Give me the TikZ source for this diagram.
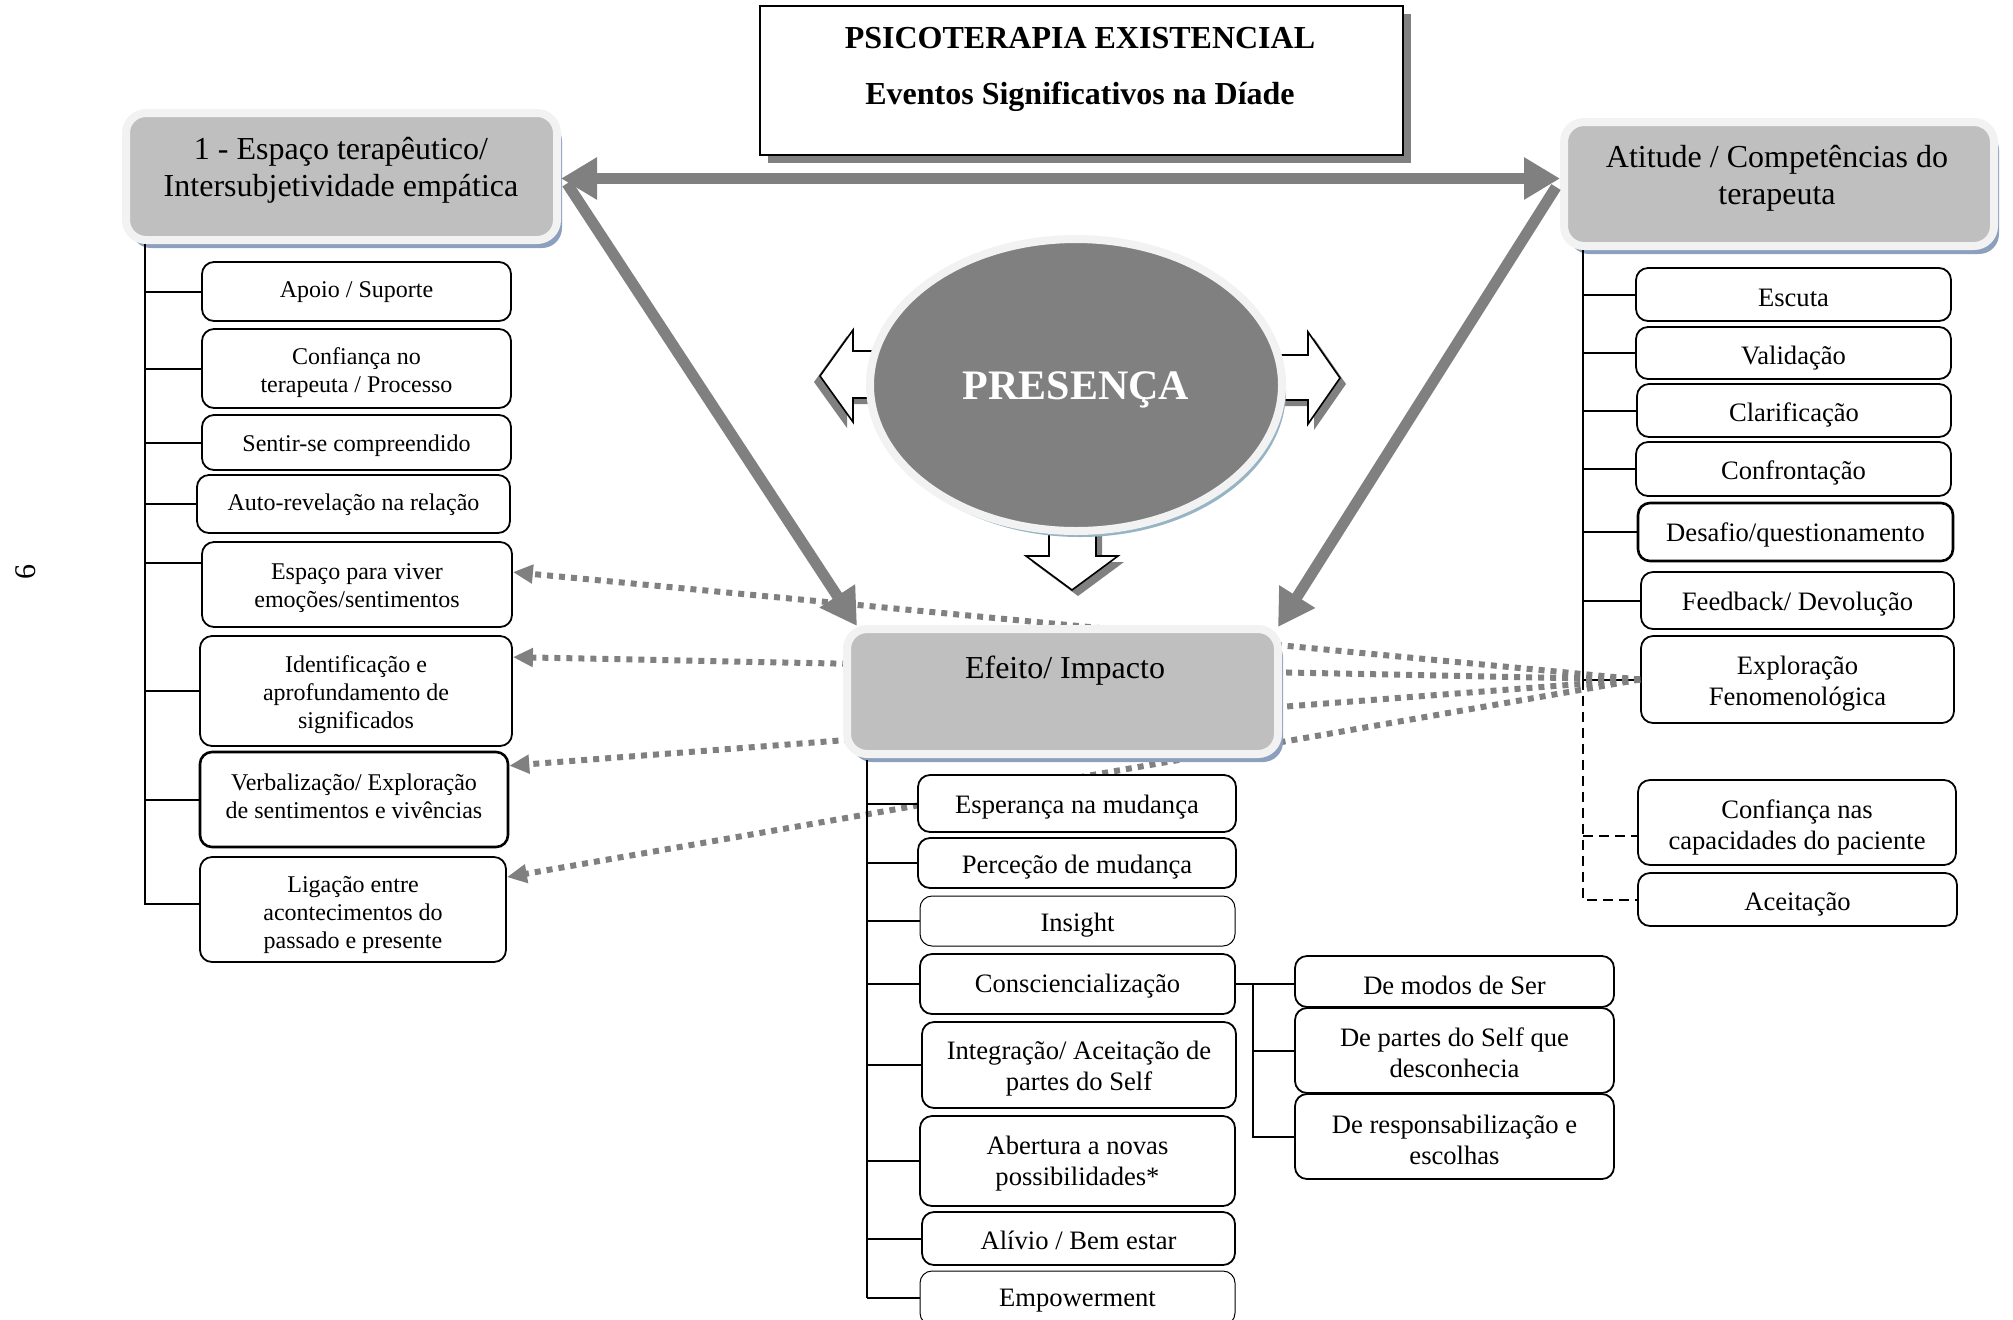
\documentclass[tikz,border=0pt]{standalone}
\usepackage{fontspec}
\setmainfont{Liberation Serif}
\usetikzlibrary{arrows.meta,shadows,calc,shapes.geometric}
\definecolor{hdrgray}{HTML}{BFBFBF}
\definecolor{hdredge}{HTML}{F2F2F2}
\definecolor{shblue}{RGB}{140,160,190}
\definecolor{midgray}{HTML}{808080}
\definecolor{ellsh}{RGB}{150,180,195}
% \bx[box style]{text style}{name}{x1}{y1}{x2}{y2}{text dy}{text}
\newcommand\bx[9][]{%
  \pgfmathsetmacro\bxcx{(#4+#6)/2}%
  \pgfmathsetmacro\bxcy{(#5+#7)/2}%
  \pgfmathsetmacro\bxw{(#6-#4)/2}%
  \pgfmathsetmacro\bxh{(#7-#5)/2}%
  \node[#1, minimum width=\bxw pt, minimum height=\bxh pt] (#3) at (\bxcx,\bxcy) {};
  \node[#2] (#3t) at ($(#3.center)+(0,#8)$) {#9};}
\tikzset{
 lbox/.style={draw=black, line width=0.9pt, rounded corners=6pt, fill=white, inner sep=0pt},
 ltext/.style={align=center, inner sep=0pt, font=\fontsize{12}{14}\selectfont},
 rtext/.style={align=center, inner sep=0pt, font=\fontsize{13.3}{15.5}\selectfont},
 thickbox/.style={line width=1.3pt},
 thinbox/.style={line width=0.5pt},
 hdr/.style={draw=hdredge, line width=4pt, fill=hdrgray, rounded corners=10pt, inner sep=0pt,
   drop shadow={shadow xshift=2.5pt, shadow yshift=-4pt, fill=shblue, opacity=1}},
 hdrtext/.style={align=center, font=\fontsize{16}{18.5}\selectfont, inner sep=0pt},
 titlebox/.style={draw=black, line width=0.8pt, fill=white, inner sep=0pt,
   drop shadow={shadow xshift=4pt, shadow yshift=-4pt, fill=midgray, opacity=1}},
 titletext/.style={font=\fontsize{16}{18}\selectfont\bfseries, inner sep=0pt},
 conn/.style={draw=black, line width=1pt},
 dconn/.style={conn, dash pattern=on 5pt off 3pt},
 bigarrow/.style={draw=midgray, line width=5.5pt, -{Triangle[length=18pt,width=20pt]}},
 bigdouble/.style={draw=midgray, line width=5.5pt, {Triangle[length=18pt,width=20pt]}-{Triangle[length=18pt,width=20pt]}},
 dotarrow/.style={draw=midgray, line width=3pt, dash pattern=on 3pt off 3pt, -{Triangle[length=10pt,width=9pt]}},
 blockarrow/.style={draw=black, line width=0.8pt, fill=white, line join=miter},
 blockshadow/.style={fill=midgray, draw=none},
}
\begin{document}
\begin{tikzpicture}[x=0.5pt,y=-0.5pt]
\useasboundingbox (0,0) rectangle (2013,1319);
\clip (0,0) rectangle (2013,1319);

% page number
\node[rotate=90, font=\fontsize{15}{15}\selectfont, inner sep=0pt] (pg) at (26,572) {6};

% title
\pgfmathsetmacro\tw{(1403-760)/2}\pgfmathsetmacro\th{(155-6)/2}
\node[titlebox, minimum width=\tw pt, minimum height=\th pt] (title) at (1081.5,80.5) {};
\node[titletext] (t1) at (1080,38) {PSICOTERAPIA EXISTENCIAL};
\node[titletext] (t2) at (1080,97) {Eventos Significativos na Díade};

% headers
\pgfmathsetmacro\hw{(557-126)/2}\pgfmathsetmacro\hh{(240-113)/2}
\node[hdr, minimum width=\hw pt, minimum height=\hh pt] (lh) at (341.5,176.5) {};
\node[hdrtext] (lht) at (341,170) {1 - Espaço terapêutico/\\Intersubjetividade empática};
\pgfmathsetmacro\hw{(1994-1564)/2}\pgfmathsetmacro\hh{(246-122)/2}
\node[hdr, minimum width=\hw pt, minimum height=\hh pt] (rh) at (1779,184) {};
\node[hdrtext] (rht) at (1777,178) {Atitude / Competências do\\terapeuta};

% left list
\bx[lbox]{ltext}{a1}{202}{262}{511}{321}{1}{Apoio / Suporte}
\bx[lbox]{ltext}{a2}{202}{329}{511}{408}{4}{Confiança no\\terapeuta / Processo}
\bx[lbox]{ltext}{a3}{202}{415}{511}{470}{3}{Sentir-se compreendido}
\bx[lbox]{ltext}{a4}{197}{475}{510}{533}{1}{Auto-revelação na relação}
\bx[lbox]{ltext}{a5}{202}{542}{512}{627}{4}{Espaço para viver\\emoções/sentimentos}
\bx[lbox]{ltext}{a6}{200}{636}{512}{746}{4}{Identificação e\\aprofundamento de\\significados}
\bx[lbox,thickbox]{ltext}{a7}{200}{752}{508}{847}{-3}{Verbalização/ Exploração\\de sentimentos e vivências}
\bx[lbox]{ltext}{a8}{200}{857}{506}{962}{5}{Ligação entre\\acontecimentos do\\passado e presente}

\coordinate (ltop) at ($(lh.south west)+(23,0)$);
\coordinate (a5c) at ($(a5.north west)+(0,22)$);
\coordinate (a8c) at ($(a8.north west)+(0,48)$);
\draw[conn] (ltop) -- (ltop |- a8c) -- (a8c);
\foreach \n in {a1,a2,a3,a4,a6,a7} \draw[conn] (ltop |- \n.west) -- (\n.west);
\draw[conn] (ltop |- a5c) -- (a5c);

% right list
\bx[lbox]{rtext}{r1}{1636}{268}{1951}{321}{3}{Escuta}
\bx[lbox]{rtext}{r2}{1636}{327}{1951}{379}{5}{Validação}
\bx[lbox]{rtext}{r3}{1637}{384}{1951}{437}{4}{Clarificação}
\bx[lbox]{rtext}{r4}{1636}{442}{1951}{496}{4}{Confrontação}
\bx[lbox,thickbox]{rtext}{r5}{1638}{503}{1953}{561}{3}{Desafio/questionamento}
\bx[lbox]{rtext}{r6}{1641}{572}{1954}{629}{4}{Feedback/ Devolução}
\bx[lbox]{rtext}{r7}{1641}{636}{1954}{723}{4}{Exploração\\Fenomenológica}
\bx[lbox]{rtext}{r8}{1638}{780}{1956}{865}{5}{Confiança nas\\capacidades do paciente}
\bx[lbox]{rtext}{r9}{1638}{873}{1957}{926}{5}{Aceitação}

\coordinate (rtop) at ($(rh.south west)+(23,0)$);
\draw[conn] (rtop) -- (rtop |- r7.west);
\foreach \n in {r1,r2,r3,r4,r5,r6,r7} \draw[conn] (rtop |- \n.west) -- (\n.west);
\coordinate (r8c) at ($(r8.north west)+(0,57)$);
\draw[dconn] (rtop |- r7.west) -- (rtop |- r9.west) -- (r9.west);
\draw[dconn] (rtop |- r8c) -- (r8c);

% dotted arrows from Exploracao to left boxes (under Efeito)
\draw[dotarrow] (r7.west) -- ($(a5.north east)+(0,31)$);
\draw[dotarrow] (r7.west) -- ($(a6.north east)+(0,22)$);
\draw[dotarrow] (r7.west) -- ($(a7.north east)+(0,15)$);
\draw[dotarrow] (r7.west) -- ($(a8.north east)+(0,21)$);

% Efeito box
\pgfmathsetmacro\hw{(1278-847)/2}\pgfmathsetmacro\hh{(754-629)/2}
\node[hdr, minimum width=\hw pt, minimum height=\hh pt] (ef) at (1062.5,691.5) {};
\node[hdrtext] (eft) at (1065,671) {Efeito/ Impacto};

% center list
\bx[lbox]{rtext}{c1}{918}{775}{1236}{832}{4}{Esperança na mudança}
\bx[lbox]{rtext}{c2}{918}{838}{1236}{888}{4}{Perceção de mudança}
\bx[lbox,thinbox]{rtext}{c3}{920}{896}{1235}{946}{4}{Insight}
\bx[lbox]{rtext}{c4}{920}{954}{1235}{1014}{2}{Consciencialização}
\bx[lbox]{rtext}{c5}{922}{1022}{1236}{1108}{4}{Integração/ Aceitação de\\partes do Self}
\bx[lbox]{rtext}{c6}{920}{1116}{1235}{1206}{3}{Abertura a novas\\possibilidades*}
\bx[lbox]{rtext}{c7}{922}{1212}{1235}{1265}{2}{Alívio / Bem estar}
\bx[lbox,thinbox]{rtext}{c8}{920}{1271}{1235}{1325}{3}{Empowerment}

\coordinate (ctop) at ($(ef.south west)+(24,2)$);
\draw[conn] (ctop) -- (ctop |- c8.west);
\foreach \n in {c1,c2,c3,c4,c5,c6,c7,c8} \draw[conn] (ctop |- \n.west) -- (\n.west);

% sub list
\bx[lbox]{rtext}{s1}{1295}{956}{1614}{1007}{4}{De modos de Ser}
\bx[lbox]{rtext}{s2}{1295}{1008}{1614}{1093}{2}{De partes do Self que\\desconhecia}
\bx[lbox]{rtext}{s3}{1295}{1094}{1614}{1179}{3}{De responsabilização e\\escolhas}
\coordinate (sx) at ($(c4.east)+(17,0)$);
\draw[conn] (c4.east) -- (c4.east -| s1.west);
\draw[conn] (sx) -- (sx |- s3.west) -- (s3.west);
\draw[conn] (sx |- s2.west) -- (s2.west);

% block arrows around presenca
\begin{scope}[shift={(-6,6)}]
\fill[blockshadow] (884,351) -- (853,351) -- (853,330) -- (820,376) -- (853,422) -- (853,398) -- (884,398) -- cycle;
\end{scope}
\filldraw[blockarrow] (884,351) -- (853,351) -- (853,330) -- (820,376) -- (853,422) -- (853,398) -- (884,398) -- cycle;
\begin{scope}[shift={(6,6)}]
\fill[blockshadow] (1268,355) -- (1308,355) -- (1308,332) -- (1340,378) -- (1308,424) -- (1308,400) -- (1268,400) -- cycle;
\fill[blockshadow] (1049,520) -- (1049,556) -- (1026,556) -- (1072,590) -- (1118,556) -- (1096,556) -- (1096,520) -- cycle;
\end{scope}
\filldraw[blockarrow] (1268,355) -- (1308,355) -- (1308,332) -- (1340,378) -- (1308,424) -- (1308,400) -- (1268,400) -- cycle;
\filldraw[blockarrow] (1049,520) -- (1049,556) -- (1026,556) -- (1072,590) -- (1118,556) -- (1096,556) -- (1096,520) -- cycle;

% presenca ellipse
\node[ellipse, draw=hdredge, line width=4pt, fill=midgray, minimum width=206pt, minimum height=146pt, inner sep=0pt,
  drop shadow={shadow xshift=2pt, shadow yshift=-3pt, fill=ellsh, opacity=1},
  text=white, font=\fontsize{21}{21}\selectfont\bfseries] (pres) at (1076,385) {\raisebox{-2.5pt}[\height][\depth]{PRESENÇA}};

% big gray arrows
\coordinate (hl) at ($(lh.east)+(0,2)$);
\coordinate (hr) at ($(rh.west)+(0,-6)$);
\draw[bigdouble] (hl) -- (hl -| hr);
\draw[bigarrow] ($(lh.east)+(6,7)$) -- ($(ef.north west)+(14,1)$);
\draw[bigarrow] ($(rh.west)+(-4,3)$) -- ($(ef.north east)+(-4,2)$);
\end{tikzpicture}
\end{document}
